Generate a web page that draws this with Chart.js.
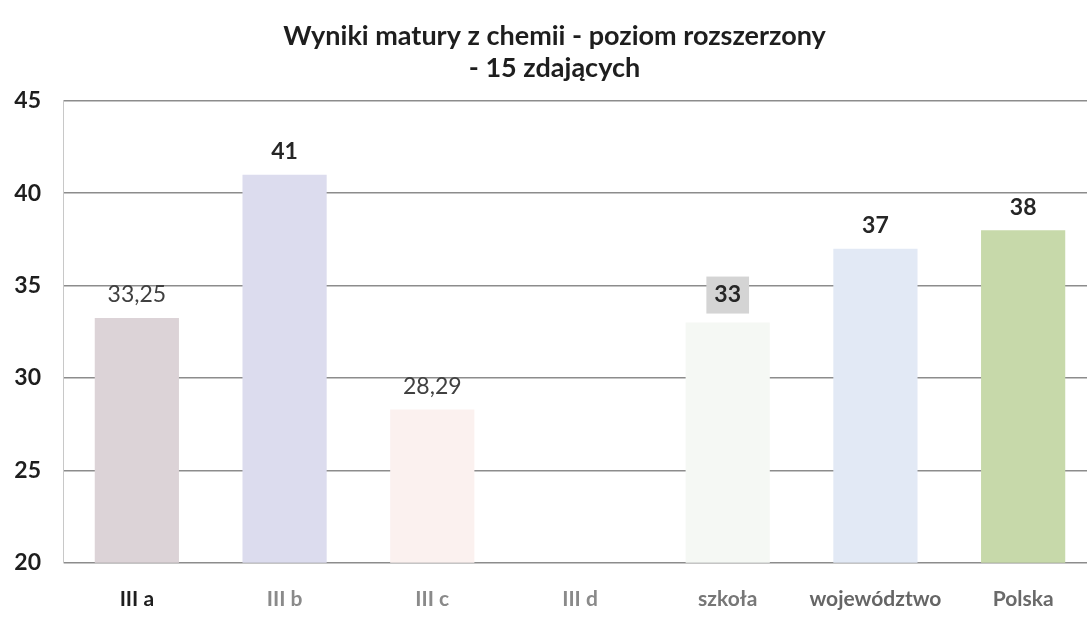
<!DOCTYPE html>
<html><head><meta charset="utf-8">
<script src="https://cdn.jsdelivr.net/npm/chart.js@4/dist/chart.umd.min.js"></script>
<style>html,body{margin:0;padding:0;background:#fff;overflow:hidden;width:1087px;height:638px}#wrap{width:1097px;height:638px}</style>
</head><body><div id="wrap"><canvas id="c" width="1097" height="638"></canvas></div>
<script>
const categories = ["III a", "III b", "III c", "III d", "szkoła", "województwo", "Polska"];
const values = [33.25, 41, 28.29, null, 33, 37, 38];
const valueLabels = ["33,25", "41", "28,29", "", "33", "37", "38"];
const yTicks = [20, 25, 30, 35, 40, 45];
const titleLines = ["Wyniki matury z chemii - poziom rozszerzony", "- 15 zdających"];

const barColors = ["#dcd3d7", "#dcdcee", "#fbf1ef", "#ffffff", "#f5f8f4", "#e2e9f5", "#c7d9aa"];
const labelBold = [false, true, false, false, true, true, true];
const labelBox = [null, null, null, null, "#d4d4d4", null, null];
const xLabelColors = ["#1e1e1e", "#8a8a8a", "#8a8a8a", "#8a8a8a", "#777777", "#666666", "#6a6a6a"];

const FONT = "Lato, 'Open Sans', sans-serif";

function barFill(ctx) {
  const i = ctx.dataIndex;
  if (i !== 6) return barColors[i];
  const el = ctx.chart.getDatasetMeta(0).data[i];
  if (!el || !el.width) return barColors[i];
  const g = ctx.chart.ctx.createLinearGradient(el.x - el.width / 2, 0, el.x + el.width / 2, 0);
  g.addColorStop(0, "#bcd19c"); g.addColorStop(0.08, "#e2e6b0"); g.addColorStop(0.12, "#c5d8a8");
  g.addColorStop(0.6, "#c9dbac"); g.addColorStop(0.66, "#dbe6f2"); g.addColorStop(0.7, "#c6d9a8");
  g.addColorStop(1, "#bed3a0");
  return g;
}

const labelPlugin = {
  id: "valLabels",
  afterDatasetsDraw(chart) {
    const ctx = chart.ctx;
    const meta = chart.getDatasetMeta(0);
    meta.data.forEach((el, i) => {
      if (values[i] == null) return;
      const txt = valueLabels[i];
      ctx.save();
      ctx.font = (labelBold[i] ? "bold " : "") + "23px " + FONT;
      ctx.textAlign = "center";
      ctx.textBaseline = "middle";
      const y = el.y - (labelBox[i] ? 28 : 23);
      if (labelBox[i]) {
        const w = ctx.measureText(txt).width + 16;
        ctx.fillStyle = labelBox[i];
        ctx.fillRect(el.x - w / 2, y - 18, w, 37);
      }
      ctx.fillStyle = labelBold[i] ? "#262626" : "#404040";
      ctx.fillText(txt, el.x, y);
      ctx.restore();
    });
  }
};

new Chart(document.getElementById("c"), {
  type: "bar",
  data: { labels: categories, datasets: [{ data: values, backgroundColor: barFill, borderWidth: 0, barPercentage: 0.57, categoryPercentage: 1 }] },
  options: {
    responsive: false, animation: false, devicePixelRatio: 1,
    layout: { padding: { top: 0, left: 12, right: 0, bottom: 2 } },
    plugins: {
      legend: { display: false }, tooltip: { enabled: false },
      title: { display: true, text: titleLines, color: "#1e1e1e", font: { family: FONT, size: 27, weight: "bold", lineHeight: 1.2 }, padding: { top: 20, bottom: 16 } }
    },
    scales: {
      x: {
        grid: { display: false, drawTicks: false },
        border: { display: false },
        ticks: { color: xLabelColors, font: { family: FONT, size: 21, weight: "bold" }, padding: 24 }
      },
      y: {
        min: yTicks[0], max: yTicks[yTicks.length - 1],
        afterBuildTicks(axis) { axis.ticks = yTicks.map(v => ({ value: v })); },
        afterFit(axis) { axis.width = 51; },
        grid: { color: "#8c8c8c", lineWidth: 1.4, drawTicks: false },
        border: { display: true, color: "#c8c8c8", width: 1 },
        ticks: { color: "#1e1e1e", font: { family: FONT, size: 23, weight: "bold" }, padding: 22 }
      }
    }
  },
  plugins: [labelPlugin]
});
</script></body></html>
